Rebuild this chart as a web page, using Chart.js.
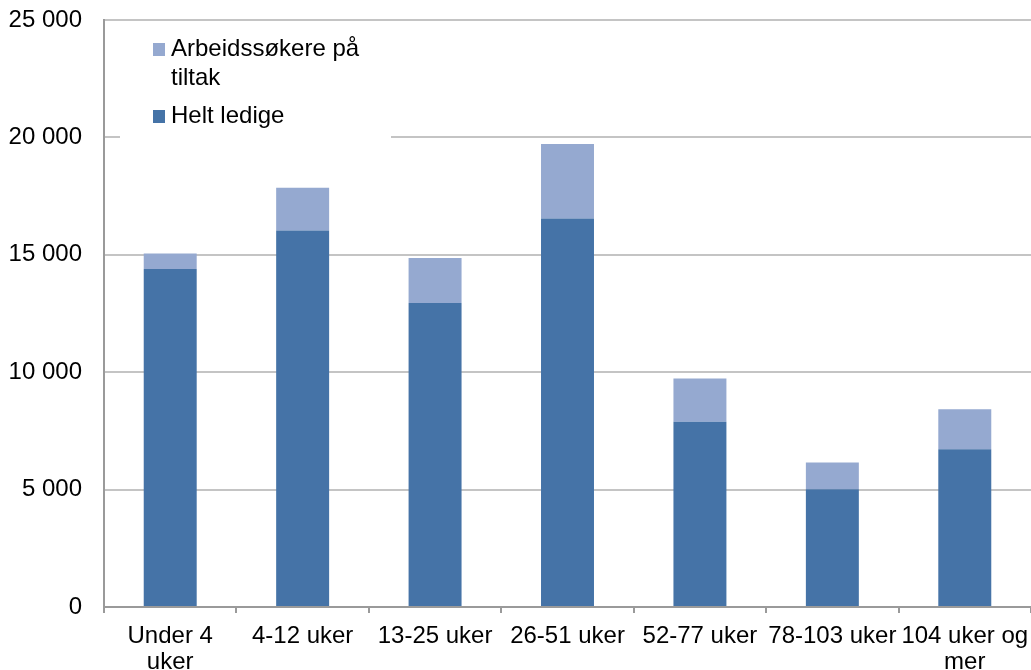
<!DOCTYPE html>
<html>
<head>
<meta charset="utf-8">
<script src="https://cdn.jsdelivr.net/npm/chart.js@4/dist/chart.umd.min.js"></script>
<style>
  html, body { margin: 0; padding: 0; background: #fff; }
  #wrap { width: 1031px; height: 670px; }
</style>
</head>
<body>
<div id="wrap"><canvas id="chart"></canvas></div>
<script>
var categories = [['Under 4', 'uker'], '4-12 uker', '13-25 uker', '26-51 uker', '52-77 uker', '78-103 uker', ['104 uker og', 'mer']];
var heltLedige = [14400, 16030, 12945, 16550, 7885, 5015, 6720];
var paTiltak = [660, 1830, 1915, 3170, 1845, 1135, 1700];
var yTicks = [0, 5000, 10000, 15000, 20000, 25000];

var fontFamily = "'Liberation Sans', Arial, sans-serif";

function fmt(v) {
    return String(v).replace(/\B(?=(\d{3})+(?!\d))/g, ' ');
}

// legend drawn by hand, in a white box that hides the gridline behind it
var boxLegend = {
    id: 'boxLegend',
    afterDraw: function (chart) {
        var ctx = chart.ctx;
        ctx.save();
        ctx.fillStyle = '#fff';
        ctx.fillRect(120, 25, 271, 116);
        ctx.font = '24px ' + fontFamily;
        ctx.textBaseline = 'alphabetic';
        var y = 56;
        var sets = chart.data.datasets.slice().reverse();
        sets.forEach(function (ds) {
            ctx.fillStyle = ds.backgroundColor;
            ctx.fillRect(153, y - 13, 12, 13);
            ctx.fillStyle = '#000';
            // simple word wrap
            var words = ds.label.split(' ');
            var line = '';
            var lines = [];
            words.forEach(function (w) {
                var test = line ? line + ' ' + w : w;
                if (ctx.measureText(test).width > 200 && line) {
                    lines.push(line);
                    line = w;
                } else {
                    line = test;
                }
            });
            lines.push(line);
            lines.forEach(function (l, i) {
                ctx.fillText(l, 171, y + i * 29);
            });
            y += (lines.length - 1) * 29 + 38;
        });
        ctx.restore();
    }
};

new Chart(document.getElementById('chart'), {
    type: 'bar',
    data: {
        labels: categories,
        datasets: [
            { label: 'Helt ledige', data: heltLedige, backgroundColor: '#4573a7' },
            { label: 'Arbeidssøkere på tiltak', data: paTiltak, backgroundColor: '#95a9d0' }
        ]
    },
    options: {
        responsive: true,
        maintainAspectRatio: false,
        animation: false,
        layout: { padding: { top: 20, right: 0, left: 0, bottom: 0 } },
        plugins: {
            legend: { display: false },
            tooltip: { enabled: false }
        },
        datasets: {
            bar: { categoryPercentage: 1.0, barPercentage: 0.4 }
        },
        scales: {
            x: {
                stacked: true,
                grid: { drawOnChartArea: false, drawTicks: true, tickLength: 6, color: '#9a9a9a', lineWidth: 2 },
                border: { display: true, color: '#9a9a9a', width: 2 },
                ticks: {
                    color: '#000',
                    font: { family: fontFamily, size: 24, lineHeight: 1.1 },
                    padding: 10,
                    maxRotation: 0,
                    autoSkip: false
                },
                afterFit: function (s) {
                    s.height = 63;
                    s.paddingLeft = 0;
                    s.paddingRight = 0;
                }
            },
            y: {
                stacked: true,
                min: 0,
                max: 25000,
                afterBuildTicks: function (s) {
                    s.ticks = yTicks.map(function (v) { return { value: v }; });
                },
                grid: { color: '#c4c4c4', lineWidth: 2, drawTicks: false },
                border: { display: true, color: '#9a9a9a', width: 2 },
                ticks: {
                    color: '#000',
                    font: { family: fontFamily, size: 24 },
                    padding: 22,
                    callback: function (v) { return fmt(v); }
                },
                afterFit: function (s) {
                    s.width = 104;
                    s.paddingTop = 0;
                    s.paddingBottom = 0;
                }
            }
        }
    },
    plugins: [boxLegend]
});
</script>
</body>
</html>
